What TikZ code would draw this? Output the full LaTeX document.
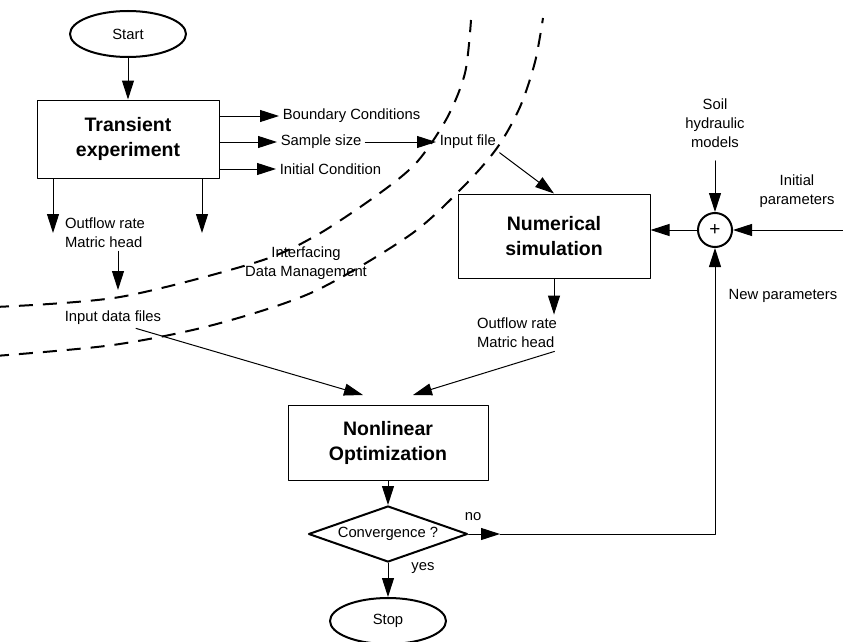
\documentclass[tikz,border=0pt]{standalone}
\usepackage{fontspec}
\setmainfont{Liberation Sans}
\usetikzlibrary{arrows.meta,shapes.geometric}
\tikzset{
	box/.style={draw, line width=1pt, font=\fontsize{19.5}{25}\selectfont\bfseries, align=center, inner sep=0pt},
	term/.style={draw, ellipse, line width=2pt, minimum width=116pt, minimum height=46pt, inner sep=0pt},
	lbl/.style={align=center, inner sep=3pt},
	dashcurve/.style={line width=2pt, dash pattern=on 14pt off 10pt, line cap=butt},
}
\begin{document}
\begin{tikzpicture}[x=1pt, y=-1pt, >={Triangle[length=19pt,width=12pt]}, font=\fontsize{14.8}{19}\selectfont, line join=round, line cap=round, line width=1pt]
		\useasboundingbox (0,0) rectangle (843,642);
		
		\node[term] (start) at (128,34) {Start};
		\node[box, minimum width=182pt, minimum height=78pt] (trans) at (128,139) {Transient\\experiment};
		\node[box, minimum width=192pt, minimum height=84pt] (num) at (554,236) {Numerical\\simulation};
		\node[box, minimum width=200pt, minimum height=75pt] (opt) at (388,443) {Nonlinear\\Optimization};
		\node[draw, diamond, aspect=2.8, line width=2pt, minimum width=159pt, minimum height=56pt, inner sep=0pt] (conv) at (388,534) {Convergence ?};
		\node[term] (stop) at (388,621) {Stop};
		\node[draw, circle, line width=2pt, minimum size=34pt, inner sep=0pt, font=\fontsize{19}{19}\selectfont] (plus) at (715,230) {+};
		
		\node[anchor=west] (bc) at (279,116) {Boundary Conditions};
		\node[anchor=west] (ss) at (277,142) {Sample size};
		\node[anchor=west] (ic) at (276,169) {Initial Condition};
		\node[anchor=west] (infile) at (436,142) {Input file};
		\node[lbl] (soil) at (715,123) {Soil\\hydraulic\\models};
		\node[lbl] (init) at (797,191) {Initial\\parameters};
		\node[lbl] (newpar) at (783,296) {New parameters};
		\node[lbl, align=left] (outl) at (105,233) {Outflow rate\\Matric head};
		\node[lbl, align=left] (outr) at (517,333) {Outflow rate\\Matric head};
		\node[lbl] (idf) at (113,318) {Input data files};
		\node[lbl] (iface) at (306,263) {Interfacing\\Data Management};
		\node (nolbl) at (473,517) {no};
		\node (yeslbl) at (423,568) {yes};
		
		\coordinate (tl) at (53,233);
		\coordinate (tr) at (202,233);
		\coordinate (mh) at (118,290);
		\coordinate (inpar) at (843,230);
		\coordinate (nogo) at (500,534);
		
		% Flow
		\draw[->] (start) -- (trans);
		\draw[->] (trans.east |- bc) -- (bc);
		\draw[->] (trans.east |- ss) -- (ss);
		\draw[->] (trans.east |- ic) -- (ic);
		\draw[->] (ss) -- (infile);
		\draw[->] (infile.south east) -- (num.north);
		\draw[->] (trans.south -| tl) -- (tl);
		\draw[->] (trans.south -| tr) -- (tr);
		\draw[->] (outl.south -| mh) -- (mh);
		\draw[->] ([yshift=-10pt]soil.south) -- (plus);
		\draw[->] (inpar) -- (plus);
		\draw[->] (plus.west) -- (num.east |- plus);
		\draw[->] (num.south) -- (num.south |- outr.north);
		\draw[->] ([xshift=23pt]idf.south) -- ([xshift=-25pt,yshift=10pt]opt.north);
		\draw[->] ([xshift=-6pt]outr.south east) -- ([xshift=25pt,yshift=10pt]opt.north);
		\draw[->] (opt) -- (conv);
		\draw[->] (conv.east) -- (nogo);
		\draw[->] (nogo) -- (plus |- nogo) -- (plus);
		\draw[->] (conv) -- (stop);
		
		% Interface boundaries
		\draw[dashcurve] plot[smooth] coordinates {(-5,307) (120,297) (257,262) (317,235) (380,193) (417,162) (447,118) (465,73) (471,20)};
		\draw[dashcurve] plot[smooth] coordinates {(-5,356) (113,345) (213,325) (313,292) (410,235) (463,187) (497,148) (520,107) (535,62) (543,18)};
	\end{tikzpicture}
\end{document}
